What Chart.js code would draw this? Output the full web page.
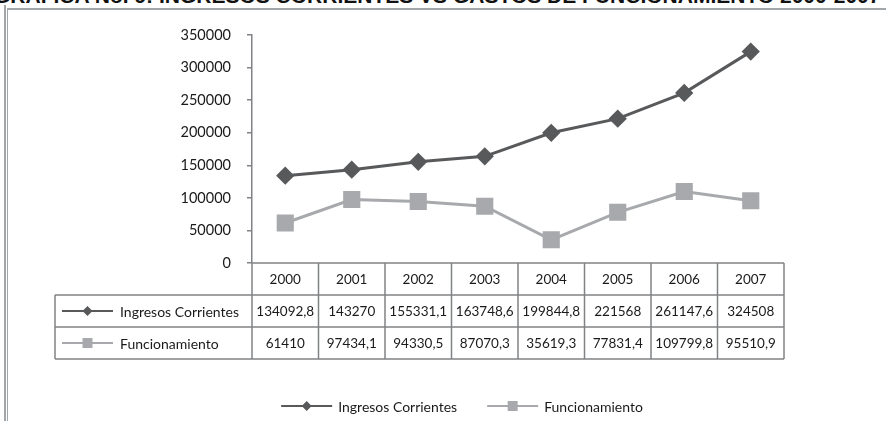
<!DOCTYPE html>
<html>
<head>
<meta charset="utf-8">
<script src="https://cdn.jsdelivr.net/npm/chart.js@4.4.0/dist/chart.umd.min.js"></script>
<style>
  html,body{margin:0;padding:0;background:#fff;}
  body{width:886px;height:421px;position:relative;overflow:hidden;}
  #title{position:absolute;left:-6px;top:-16px;white-space:nowrap;font:bold 21px "Liberation Sans",Arial,sans-serif;line-height:24px;color:#111;}
  .fr{position:absolute;background:#a3a6a9;}
  #wrap{position:absolute;left:0;top:0;width:886px;height:421px;}
</style>
</head>
<body>
<div id="title">GRAFICA No. 9: INGRESOS CORRIENTES VS GASTOS DE FUNCIONAMIENTO 2000-2007</div>
<div class="fr" style="left:4px;top:5px;width:2px;height:416px;"></div>
<div class="fr" style="left:7px;top:8px;width:1px;height:413px;"></div>
<div class="fr" style="left:7px;top:8px;width:879px;height:2px;"></div>
<div id="wrap"><canvas id="c" width="886" height="421"></canvas></div>
<script>
const categories = ['2000','2001','2002','2003','2004','2005','2006','2007'];
const ingresosCorrientes = [134092.8, 143270, 155331.1, 163748.6, 199844.8, 221568, 261147.6, 324508];
const funcionamiento = [61410, 97434.1, 94330.5, 87070.3, 35619.3, 77831.4, 109799.8, 95510.9];
const yTicks = [0, 50000, 100000, 150000, 200000, 250000, 300000, 350000];
const seriesLabels = ['Ingresos Corrientes', 'Funcionamiento'];

const DARK = '#58595b';
const LIGHT = '#a7a9ac';
const GRIDC = '#808285';
const FONT = 'Lato, "Open Sans", sans-serif';

function fmt(v){ return String(v).replace('.', ','); }

function drawKey(ctx, ds, x, y, len, lw){
  ctx.save();
  ctx.strokeStyle = ds.borderColor; ctx.lineWidth = lw;
  ctx.beginPath(); ctx.moveTo(x, y); ctx.lineTo(x + len, y); ctx.stroke();
  ctx.fillStyle = ds.pointBackgroundColor;
  const cx = x + len / 2;
  if (ds.pointStyle === 'rectRot') {
    const r = 5;
    ctx.beginPath(); ctx.moveTo(cx, y - r); ctx.lineTo(cx + r, y); ctx.lineTo(cx, y + r); ctx.lineTo(cx - r, y); ctx.closePath(); ctx.fill();
  } else {
    const h = 5;
    ctx.fillRect(cx - h, y - h, 2 * h, 2 * h);
  }
  ctx.restore();
}

const tablePlugin = {
  id: 'dataTable',
  afterDraw(chart) {
    const ctx = chart.ctx, a = chart.chartArea, x = chart.scales.x;
    const n = categories.length;
    const colW = (a.right - a.left) / n;
    const rowH = 32;
    const top = a.bottom;
    const labelLeft = 55;
    const dsets = chart.data.datasets;
    ctx.save();
    ctx.strokeStyle = GRIDC; ctx.lineWidth = 1.5;
    ctx.beginPath();
    ctx.moveTo(a.left, top); ctx.lineTo(a.right, top);
    for (let r = 1; r <= 3; r++) { ctx.moveTo(labelLeft, top + r * rowH); ctx.lineTo(a.right, top + r * rowH); }
    for (let i = 0; i <= n; i++) { const xx = a.left + i * colW; ctx.moveTo(xx, top); ctx.lineTo(xx, top + 3 * rowH); }
    ctx.moveTo(labelLeft, top + rowH); ctx.lineTo(labelLeft, top + 3 * rowH);
    ctx.stroke();

    ctx.fillStyle = '#1a1a1a';
    ctx.font = '13.5px ' + FONT;
    ctx.textAlign = 'center'; ctx.textBaseline = 'middle';
    const rows = [categories, ingresosCorrientes.map(fmt), funcionamiento.map(fmt)];
    rows.forEach((row, r) => {
      row.forEach((t, i) => {
        ctx.fillText(t, x.getPixelForValue(i), top + r * rowH + rowH / 2 + 1);
      });
    });
    ctx.textAlign = 'left';
    ctx.font = '14px ' + FONT;
    dsets.forEach((ds, k) => {
      const yy = top + (k + 1) * rowH + rowH / 2;
      drawKey(ctx, ds, 62, yy, 51, 2);
      ctx.fillStyle = '#1a1a1a';
      ctx.fillText(ds.label, 120, yy + 1);
    });

    const ly = 406;
    ctx.font = '14px ' + FONT;
    const keyLen = 51, gapKT = 6, gapItems = 30;
    const widths = dsets.map(ds => keyLen + gapKT + ctx.measureText(ds.label).width);
    const total = widths.reduce((s, w) => s + w, 0) + gapItems * (dsets.length - 1);
    let lx = 462 - total / 2;
    dsets.forEach((ds, k) => {
      drawKey(ctx, ds, lx, ly, keyLen, 2);
      ctx.fillStyle = '#1a1a1a';
      ctx.fillText(ds.label, lx + keyLen + gapKT, ly + 1);
      lx += widths[k] + gapItems;
    });
    ctx.restore();
  }
};

new Chart(document.getElementById('c'), {
  type: 'line',
  data: {
    labels: categories,
    datasets: [
      { label: seriesLabels[0], data: ingresosCorrientes, borderColor: DARK, backgroundColor: DARK,
        pointBackgroundColor: DARK, pointBorderColor: DARK, borderWidth: 3, pointStyle: 'rectRot',
        pointRadius: 7, pointHoverRadius: 7, tension: 0 },
      { label: seriesLabels[1], data: funcionamiento, borderColor: LIGHT, backgroundColor: LIGHT,
        pointBackgroundColor: LIGHT, pointBorderColor: LIGHT, borderWidth: 3, pointStyle: 'rect',
        pointRadius: 10, pointHoverRadius: 10, tension: 0 }
    ]
  },
  options: {
    responsive: false,
    animation: false,
    layout: { padding: { left: 0, top: 35, right: 102, bottom: 158 } },
    plugins: { legend: { display: false }, tooltip: { enabled: false }, title: { display: false } },
    scales: {
      x: { type: 'category', display: false, offset: true },
      y: {
        min: 0, max: 350000,
        afterBuildTicks(scale) { scale.ticks = yTicks.map(v => ({ value: v })); },
        afterFit(scale) { scale.width = 252; },
        ticks: { color: '#1a1a1a', font: { family: FONT, size: 14.5 }, padding: 16, callback: v => String(v) },
        grid: { drawOnChartArea: false, drawTicks: true, tickLength: 5, color: GRIDC, lineWidth: 1.5 },
        border: { display: true, color: GRIDC, width: 1.5 }
      }
    }
  },
  plugins: [tablePlugin]
});
</script>
</body>
</html>
